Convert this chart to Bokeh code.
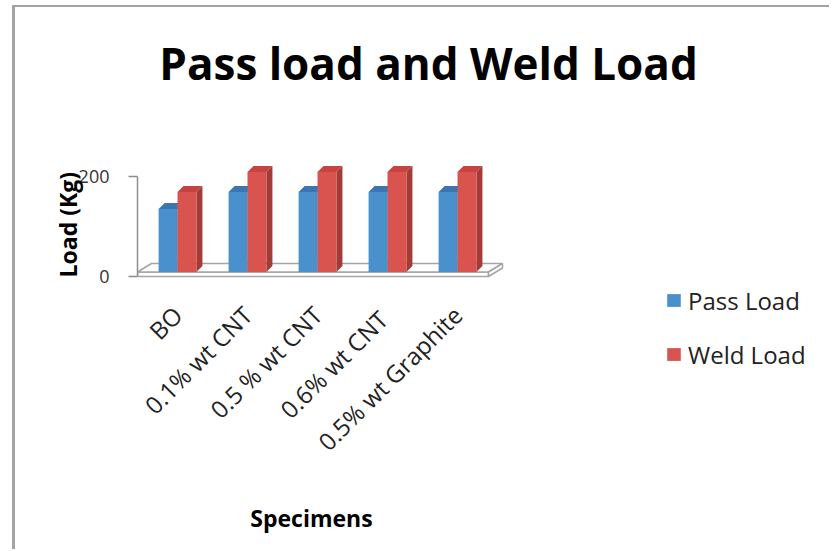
import math

from bokeh.plotting import figure
from bokeh.models import Range1d, FixedTicker, Label, Legend, LegendItem, Title
from bokeh.embed import file_html
from bokeh.resources import INLINE

# ---- data -------------------------------------------------------------
specimens = ["BO", "0.1% wt CNT", "0.5 % wt CNT", "0.6% wt  CNT", "0.5% wt Graphite"]
pass_load = [126, 160, 160, 160, 160]
weld_load = [160, 200, 200, 200, 200]
y_ticks = [0, 200]

# ---- styling / pseudo-3D projection constants ---------------------------
FONT = "Open Sans"
BLUE, BLUE_TOP = "#4a90cc", "#3b76b3"
RED, RED_TOP, RED_SIDE = "#d9534f", "#c5443f", "#a33b37"
GRAY = "#a5a5a5"

BAR_W = 0.27          # front width of one bar (category units)
BAR_DX = 0.086        # depth offset of a bar, x (category units)
BAR_DY = 12           # depth offset of a bar, y (value units)
SLAB = 9              # floor thickness (value units)
FLOOR_DX = 0.2        # floor depth offset, x
FLOOR_DY = 17         # floor depth offset, y
FLOOR_LEFT, FLOOR_RIGHT = -0.5714, 4.443

xs = list(range(len(specimens)))

# the plotting area spans the whole chart so that title, legend and
# x-axis caption can all be placed inside it
p = figure(width=817, height=544, x_range=Range1d(-0.5714, 9.357),
           y_range=Range1d(-542, 538), output_backend="svg", toolbar_location=None,
           min_border_left=122, min_border_right=0, min_border_top=0,
           min_border_bottom=4, title=None)
p.outline_line_color = None
p.grid.visible = False
p.background_fill_color = "white"
p.border_fill_color = "white"
p.styles = {"margin-left": "12px", "margin-top": "5px",
            "border-left": "3px solid #a3a3a3", "border-top": "2px solid #a3a3a3"}

# ---- floor (thin slab seen in perspective) -------------------------------
p.quad(left=[FLOOR_LEFT], right=[FLOOR_RIGHT], bottom=[0], top=[SLAB],
       fill_color="white", line_color=GRAY, line_width=1.5)
p.patch([FLOOR_LEFT, FLOOR_RIGHT, FLOOR_RIGHT + FLOOR_DX, FLOOR_LEFT + FLOOR_DX],
        [SLAB, SLAB, SLAB + FLOOR_DY, SLAB + FLOOR_DY],
        fill_color="white", line_color=GRAY, line_width=1.5)
p.patch([FLOOR_RIGHT, FLOOR_RIGHT + FLOOR_DX, FLOOR_RIGHT + FLOOR_DX, FLOOR_RIGHT],
        [0, FLOOR_DY, SLAB + FLOOR_DY, SLAB],
        fill_color="white", line_color=GRAY, line_width=1.5)


def bars_3d(centers, values, front, top, side):
    """Draw one series of pseudo-3D columns standing on the floor slab."""
    lefts = [c - BAR_W / 2 for c in centers]
    rights = [c + BAR_W / 2 for c in centers]
    tops = [v + SLAB for v in values]
    side_xs = [[r, r + BAR_DX, r + BAR_DX, r] for r in rights]
    side_ys = [[SLAB, SLAB + BAR_DY, t + BAR_DY, t] for t in tops]
    p.patches(side_xs, side_ys, fill_color=side, line_color=None)
    top_xs = [[l, r, r + BAR_DX, l + BAR_DX] for l, r in zip(lefts, rights)]
    top_ys = [[t, t, t + BAR_DY, t + BAR_DY] for t in tops]
    p.patches(top_xs, top_ys, fill_color=top, line_color=None)
    return p.vbar(x=centers, width=BAR_W, bottom=SLAB, top=tops,
                  fill_color=front, line_color=None)


blue = bars_3d([x - BAR_W / 2 for x in xs], pass_load, BLUE, BLUE_TOP, "#2f5f91")
red = bars_3d([x + BAR_W / 2 for x in xs], weld_load, RED, RED_TOP, RED_SIDE)

# ---- axes ---------------------------------------------------------------
ya = p.yaxis[0]
ya.ticker = FixedTicker(ticks=y_ticks)
ya.bounds = (0, 200)
ya.minor_tick_line_color = None
ya.major_tick_in = 0
ya.major_tick_out = 9
ya.axis_line_color = "#8c8c8c"
ya.major_tick_line_color = "#8c8c8c"
ya.axis_line_width = 1.5
ya.major_tick_line_width = 1.5
ya.major_label_text_font = FONT
ya.major_label_text_font_size = "18px"
ya.major_label_text_color = "#333333"
ya.major_label_standoff = 19

# y-axis caption, anchored at the foot of the value axis
p.add_layout(Title(text="Load (Kg)", align="left", offset=270, standoff=-16,
                   text_font=FONT, text_font_style="bold",
                   text_font_size="23px", text_color="black"), "left")

xa = p.xaxis[0]
xa.ticker = FixedTicker(ticks=xs)
xa.major_label_overrides = {i: s for i, s in zip(xs, specimens)}
xa.major_label_orientation = math.pi / 4
xa.axis_line_color = None
xa.major_tick_line_color = None
xa.major_tick_out = 0
xa.major_tick_in = 0
xa.minor_tick_line_color = None
xa.major_label_text_font = FONT
xa.major_label_text_font_size = "24px"
xa.major_label_text_color = "#222222"
xa.major_label_standoff = -237

# ---- title and x-axis caption ----------------------------------------------
p.add_layout(Label(x=3.586, y=428, text="Pass load and Weld Load",
                   text_align="center", text_baseline="alphabetic",
                   text_font=FONT, text_font_style="bold",
                   text_font_size="44px", text_color="black"))
p.add_layout(Label(x=1.914, y=-482, text="Specimens",
                   text_align="center", text_baseline="alphabetic",
                   text_font=FONT, text_font_style="bold",
                   text_font_size="23px", text_color="black"))

# ---- legend -------------------------------------------------------------
legend = Legend(items=[LegendItem(label="Pass Load", renderers=[blue]),
                       LegendItem(label="Weld Load", renderers=[red])],
                location=(528, 176), orientation="vertical",
                glyph_width=17, glyph_height=16, label_height=34, spacing=20,
                padding=0, margin=0, border_line_color=None,
                background_fill_alpha=0, label_standoff=6,
                label_text_font=FONT, label_text_font_size="24px",
                label_text_color="#222222")
p.add_layout(legend)

open("out.html", "w").write(file_html(p, INLINE))
